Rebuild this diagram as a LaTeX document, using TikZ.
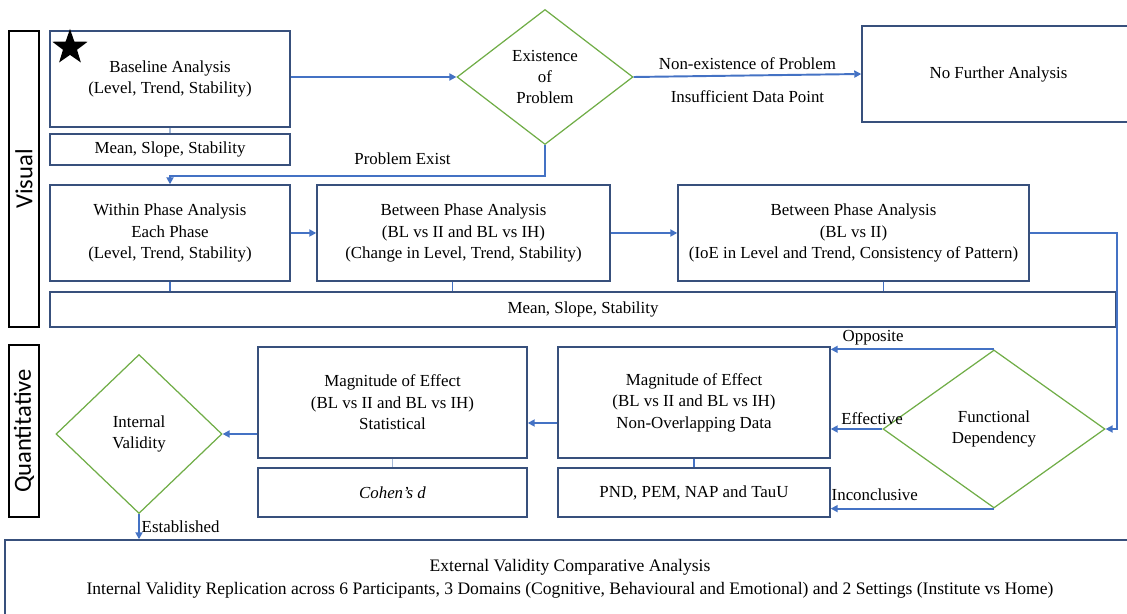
\documentclass[tikz,border=0pt]{standalone}
\usepackage{fontspec}
\setmainfont{Liberation Serif}
\newfontfamily\sidefont{Carlito}
\usepackage{tikz}
\usetikzlibrary{
    arrows.meta,
    calc,
    shapes.geometric,
    positioning
}
\definecolor{boxline}{RGB}{56,80,124}
\definecolor{diamondgreen}{RGB}{112,173,71}
\definecolor{flow}{RGB}{68,114,196}
\definecolor{faint}{RGB}{165,185,215}

\begin{document}
\begin{tikzpicture}[
    box/.style={draw=boxline, line width=0.8pt, align=center, inner sep=2pt, font=\fontsize{9.6}{12.2}\selectfont},
    decide/.style={draw=diamondgreen, diamond, line width=0.7pt, align=center, inner sep=0pt, font=\fontsize{9.6}{12.2}\selectfont},
    side/.style={draw=black, line width=0.8pt, rotate=90, inner sep=0pt, font=\sidefont\fontsize{14}{16}\selectfont},
    arrow/.style={-{Triangle[length=4pt,width=4pt]}, draw=flow, line width=1.1pt},
    link/.style={draw=flow, line width=1pt},
    tag/.style={font=\fontsize{9.6}{11.6}\selectfont, inner sep=1pt}
]
    \useasboundingbox (0,0) rectangle (22.54,-12.28);

    % Side labels
    \node[side, minimum width=5.92cm, minimum height=0.6cm] (visual) at (0.48,-3.58) {Visual};
    \node[side, minimum width=3.44cm, minimum height=0.6cm] (quant) at (0.48,-8.62) {Quantitative};

    % Baseline box
    \node[box, minimum width=4.8cm, minimum height=1.92cm] (baseline) at (3.4,-1.58) {
        Baseline Analysis\\
        (Level, Trend, Stability)
    };
    \node[star, star points=5, star point ratio=2.5, fill=black, inner sep=0pt, minimum size=0.74cm] (startstar) at (1.4,-0.95) {};
    \node[box, minimum width=4.8cm, minimum height=0.62cm] (bmean) at (3.4,-2.99) {Mean, Slope, Stability};

    % Existence decision
    \node[decide, minimum width=3.52cm, minimum height=2.7cm] (exist) at (10.9,-1.54) {
        Existence\\ of\\ Problem
    };

    % No further analysis
    \node[box, minimum width=5.46cm, minimum height=1.92cm] (nofurther) at (19.97,-1.48) {No Further Analysis};

    % Second row
    \node[box, minimum width=4.8cm, minimum height=1.92cm] (within) at (3.4,-4.66) {
        Within Phase Analysis\\
        Each Phase\\
        (Level, Trend, Stability)
    };
    \node[box, minimum width=5.86cm, minimum height=1.92cm] (btwone) at (9.27,-4.66) {
        Between Phase Analysis\\
        (BL vs II and BL vs IH)\\
        (Change in Level, Trend, Stability)
    };
    \node[box, minimum width=7.02cm, minimum height=1.92cm] (btwtwo) at (17.07,-4.66) {
        Between Phase Analysis\\
        (BL vs II)\\
        (IoE in Level and Trend, Consistency of Pattern)
    };
    \node[box, minimum width=21.32cm, minimum height=0.7cm] (wmean) at (11.66,-6.19) {Mean, Slope, Stability};

    % Quantitative row
    \node[decide, minimum width=4.44cm, minimum height=3.16cm] (funcdep) at (19.88,-8.58) {
        Functional\\ Dependency
    };
    \node[box, minimum width=5.44cm, minimum height=2.22cm] (nonover) at (13.88,-8.05) {
        Magnitude of Effect\\
        (BL vs II and BL vs IH)\\
        Non-Overlapping Data
    };
    \node[box, minimum width=5.44cm, minimum height=0.98cm] (pnd) at (13.88,-9.85) {PND, PEM, NAP and TauU};
    \node[box, minimum width=5.38cm, minimum height=2.22cm] (stat) at (7.85,-8.05) {
        Magnitude of Effect\\
        (BL vs II and BL vs IH)\\
        Statistical
    };
    \node[box, minimum width=5.38cm, minimum height=0.98cm] (cohen) at (7.85,-9.85) {\textit{Cohen’s d}};
    \node[decide, minimum width=3.32cm, minimum height=3.18cm] (intval) at (2.78,-8.68) {
        Internal\\ Validity
    };

    % External validity
    \node[box, font=\fontsize{10}{13}\selectfont, minimum width=22.6cm, minimum height=1.54cm] (external) at (11.4,-11.57) {
        External Validity Comparative Analysis\\
        Internal Validity Replication across 6 Participants, 3 Domains (Cognitive, Behavioural and Emotional) and 2 Settings (Institute vs Home)
    };

    % Sub-box links
    \draw[faint, line width=1pt] (baseline.south) -- (bmean.north);
    \draw[link] (within.south) -- (within.south |- wmean.north);
    \draw[link] ([xshift=-0.22cm]btwone.south) -- ([xshift=-0.22cm]btwone.south |- wmean.north);
    \draw[link] ([xshift=0.6cm]btwtwo.south) -- ([xshift=0.6cm]btwtwo.south |- wmean.north);
    \draw[faint, line width=1pt] (stat.south) -- (cohen.north);
    \draw[link] (nonover.south) -- (pnd.north);

    % Arrows
    \draw[arrow] (baseline.east |- exist.west) -- (exist.west);
    \draw[arrow] (exist.east) -- (nofurther.west)
        node[tag, midway, above=2pt] {Non-existence of Problem}
        node[tag, midway, below=7pt] {Insufficient Data Point};
    \draw[arrow] (exist.south) -- ++(0,-0.62) -| (within.north)
        node[tag, pos=0.19, above=5pt] {Problem Exist};
    \draw[arrow] (within.east) -- (btwone.west);
    \draw[arrow] (btwone.east) -- (btwtwo.west);
    \draw[arrow] (btwtwo.east) -- ++(1.74,0) |- (funcdep.east);
    \draw[arrow] (funcdep.north) -- (nonover.east |- funcdep.north)
        node[tag, pos=0.74, above=1pt] {Opposite};
    \draw[arrow] (funcdep.west) -- (nonover.east |- funcdep.west)
        node[tag, pos=0.2, above=1pt] {Effective};
    \draw[arrow] (funcdep.south) -- (pnd.east |- funcdep.south)
        node[tag, pos=0.73, above=3pt] {Inconclusive};
    \draw[arrow] ([yshift=-0.41cm]nonover.west) -- ([yshift=-0.41cm]stat.east);
    \draw[arrow] (stat.west |- intval.east) -- (intval.east);
    \draw[arrow] (intval.south) -- (intval.south |- external.north)
        node[tag, midway, right=0pt] {Established};
\end{tikzpicture}
\end{document}
